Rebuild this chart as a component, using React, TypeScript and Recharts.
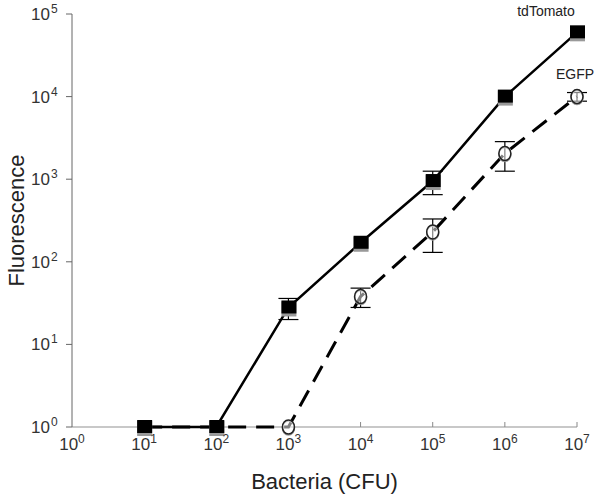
import {
  LineChart,
  Line,
  XAxis,
  YAxis,
  CartesianGrid,
  ErrorBar,
  LabelList,
} from "recharts";

document.body.style.margin = "0";

const bacteria = [10, 100, 1000, 1e4, 1e5, 1e6, 1e7];
const tdTomato = [1, 1, 28, 170, 950, 10000, 60000];
const tdTomatoErr = [0, 0, 8, 0, 300, 0, 0];
const egfp = [1, 1, 1, 38, 230, 2050, 10000];
const egfpErr = [0, 0, 0, 10, 100, 800, 1200];
const xTicks = [1, 10, 100, 1000, 1e4, 1e5, 1e6, 1e7];
const yTicks = [1, 10, 100, 1000, 1e4, 1e5];

const data = bacteria.map((b, i) => ({
  cfu: b,
  tdTomato: tdTomato[i],
  tdTomatoErr: tdTomatoErr[i],
  egfp: egfp[i],
  egfpErr: egfpErr[i],
}));

const FONT = "'Liberation Sans', Arial, sans-serif";

function XTick(props: any) {
  const { x, y, payload } = props;
  const exp = Math.round(Math.log10(payload.value));
  return (
    <g>
      {exp > 3 && <line x1={x} x2={x} y1={y - 5} y2={y} stroke="#888" />}
      <text x={x} y={y + 23} textAnchor="middle" fontFamily={FONT} fontSize={17} fill="#333">
        10<tspan dy={-7} fontSize={12}>{exp}</tspan>
      </text>
    </g>
  );
}

function YTick(props: any) {
  const { x, y, payload } = props;
  const exp = Math.round(Math.log10(payload.value));
  return (
    <text x={x - 16} y={y + 6} textAnchor="end" fontFamily={FONT} fontSize={17} fill="#333">
      10
      <tspan x={x - 15} dy={-7} textAnchor="start" fontSize={12}>{exp}</tspan>
    </text>
  );
}

function Square(props: any) {
  const { cx, cy } = props;
  return (
    <g>
      <rect x={cx - 7} y={cy - 6} width={15} height={15} fill="#999" />
      <rect x={cx - 7} y={cy - 7} width={15} height={13} fill="#000" />
    </g>
  );
}

// circles that sit under a tdTomato square are hidden in the figure
function Circle(props: any) {
  const { cx, cy, payload } = props;
  if (payload && payload.egfp === payload.tdTomato) return <g />;
  return (
    <g>
      <ellipse cx={cx} cy={cy + 1} rx={6} ry={7} fill="none" stroke="#999" strokeWidth={1.5} />
      <ellipse cx={cx} cy={cy} rx={6} ry={7} fill="#fff" fillOpacity={0.5} stroke="#222" strokeWidth={1.5} />
    </g>
  );
}

function seriesLabel(text: string, dx: number, dy: number) {
  return (props: any) => {
    const { x, y, index } = props;
    if (index !== bacteria.length - 1) return null;
    return (
      <text x={x + dx} y={y + dy} textAnchor="middle" fontFamily={FONT} fontSize={14} fill="#222">
        {text}
      </text>
    );
  };
}

export default function App() {
  return (
    <LineChart
      width={600}
      height={497}
      data={data}
      margin={{ top: 14, right: 23, bottom: 0, left: 0 }}
    >
      <CartesianGrid
        vertical={false}
        horizontalValues={[1]}
        stroke="#c8c8c8"
        strokeWidth={2}
      />
      <XAxis
        dataKey="cfu"
        type="number"
        scale="log"
        domain={[1, 1e7]}
        ticks={xTicks}
        interval={0}
        tickSize={0}
        tickMargin={0}
        tickLine={false}
        axisLine={false}
        tick={<XTick />}
        height={70}
        label={{
          value: "Bacteria (CFU)",
          position: "insideBottom",
          offset: 8,
          style: { fontFamily: FONT, fontSize: 22, fill: "#222" },
        }}
      />
      <YAxis
        type="number"
        scale="log"
        domain={[1, 1e5]}
        ticks={yTicks}
        interval={0}
        width={72}
        tickSize={6}
        tickMargin={0}
        tick={<YTick />}
        stroke="#666"
        label={{
          value: "Fluorescence",
          angle: -90,
          position: "insideLeft",
          offset: 16,
          style: { fontFamily: FONT, fontSize: 22, fill: "#222", textAnchor: "middle" },
        }}
      />
      <Line
        dataKey="egfp"
        stroke="#000"
        strokeWidth={3}
        strokeDasharray="18 10"
        dot={<Circle />}
        isAnimationActive={false}
      >
        <ErrorBar dataKey="egfpErr" width={10} stroke="#000" strokeWidth={1.2} direction="y" />
        <LabelList dataKey="egfp" content={seriesLabel("EGFP", -2, -18)} />
      </Line>
      <Line
        dataKey="tdTomato"
        stroke="#000"
        strokeWidth={2.5}
        dot={<Square />}
        isAnimationActive={false}
      >
        <ErrorBar dataKey="tdTomatoErr" width={10} stroke="#000" strokeWidth={1.2} direction="y" />
        <LabelList dataKey="tdTomato" content={seriesLabel("tdTomato", -31, -16)} />
      </Line>
    </LineChart>
  );
}
